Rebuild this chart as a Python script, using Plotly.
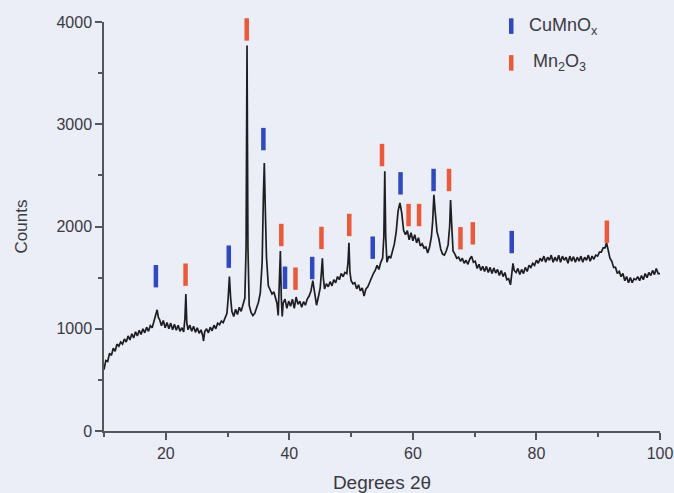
import plotly.graph_objects as go

two_theta = [10.0, 10.3, 10.6, 10.9, 11.2, 11.5, 11.8, 12.1, 12.4, 12.7, 13.0, 13.3, 13.6, 13.9, 14.2, 14.5,
             14.8, 15.1, 15.4, 15.7, 16.0, 16.3, 16.6, 16.9, 17.2, 17.5, 17.8, 18.1, 18.4, 18.6, 18.8, 19.0,
             19.3, 19.6, 19.9, 20.2, 20.5, 20.8, 21.1, 21.4, 21.7, 22.0, 22.3, 22.6, 22.9, 23.1, 23.25, 23.4,
             23.6, 23.9, 24.2, 24.5, 24.8, 25.1, 25.4, 25.7, 26.0, 26.1, 26.3, 26.6, 26.9, 27.2, 27.5, 27.8,
             28.1, 28.4, 28.7, 29.0, 29.3, 29.6, 29.9, 30.1, 30.3, 30.5, 30.7, 31.0, 31.3, 31.6, 31.9, 32.2,
             32.5, 32.8, 33.0, 33.15, 33.3, 33.5, 33.8, 34.1, 34.4, 34.7, 35.0, 35.3, 35.6, 35.8, 35.95, 36.1,
             36.3, 36.6, 36.9, 37.2, 37.5, 37.8, 38.0, 38.2, 38.4, 38.55, 38.7, 38.85, 39.0, 39.3, 39.6, 39.9,
             40.2, 40.5, 40.8, 41.1, 41.4, 41.7, 42.0, 42.3, 42.6, 42.9, 43.2, 43.5, 43.8, 44.1, 44.4, 44.7,
             45.0, 45.2, 45.35, 45.5, 45.7, 46.0, 46.3, 46.6, 46.9, 47.2, 47.5, 47.8, 48.1, 48.4, 48.7, 49.0,
             49.3, 49.5, 49.65, 49.8, 50.0, 50.3, 50.6, 50.9, 51.2, 51.5, 51.8, 52.1, 52.4, 52.7, 53.0, 53.3,
             53.6, 53.9, 54.2, 54.5, 54.8, 55.1, 55.3, 55.45, 55.6, 55.8, 56.1, 56.4, 56.7, 57.0, 57.3, 57.6,
             57.9, 58.2, 58.5, 58.8, 59.1, 59.4, 59.7, 60.0, 60.3, 60.6, 60.9, 61.2, 61.5, 61.8, 62.1, 62.4,
             62.7, 63.0, 63.2, 63.4, 63.6, 63.9, 64.2, 64.5, 64.8, 65.1, 65.4, 65.7, 65.95, 66.1, 66.3, 66.5,
             66.8, 67.1, 67.4, 67.7, 68.0, 68.3, 68.6, 68.9, 69.2, 69.5, 69.8, 70.1, 70.4, 70.7, 71.0, 71.3,
             71.6, 71.9, 72.2, 72.5, 72.8, 73.1, 73.4, 73.7, 74.0, 74.3, 74.6, 74.9, 75.2, 75.5, 75.8, 76.0,
             76.2, 76.4, 76.7, 77.0, 77.3, 77.6, 77.9, 78.2, 78.5, 78.8, 79.1, 79.4, 79.7, 80.0, 80.3, 80.6,
             80.9, 81.2, 81.5, 81.8, 82.1, 82.4, 82.7, 83.0, 83.3, 83.6, 83.9, 84.2, 84.5, 84.8, 85.1, 85.4,
             85.7, 86.0, 86.3, 86.6, 86.9, 87.2, 87.5, 87.8, 88.1, 88.4, 88.7, 89.0, 89.3, 89.6, 89.9, 90.2,
             90.5, 90.8, 91.1, 91.35, 91.6, 91.9, 92.2, 92.5, 92.8, 93.1, 93.4, 93.7, 94.0, 94.3, 94.6, 94.9,
             95.2, 95.5, 95.8, 96.1, 96.4, 96.7, 97.0, 97.3, 97.6, 97.9, 98.2, 98.5, 98.8, 99.1, 99.4, 99.7,
             100.0]

counts = [600, 690, 680, 760, 740, 810, 780, 850, 830, 870, 850, 900, 870, 930, 890, 950,
          910, 970, 930, 985, 945, 1000, 960, 1015, 975, 1030, 1010, 1070, 1140, 1185, 1110, 1090,
          1030, 1080, 1010, 1060, 1000, 1055, 990, 1045, 985, 1035, 975, 1010, 970, 1100, 1340, 1060,
          990, 1035, 975, 1025, 965, 1010, 955, 990, 930, 880, 970, 1000, 960, 1015, 980, 1035,
          1000, 1055, 1040, 1075, 1060, 1110, 1150, 1300, 1510, 1300, 1170, 1120, 1190, 1140, 1210, 1170,
          1230, 1300, 1800, 3770, 1800, 1230, 1160, 1130, 1150, 1200, 1260, 1350, 1650, 2300, 2620, 2200,
          1700, 1420, 1370, 1340, 1360, 1300, 1250, 1130, 1400, 1760, 1300, 1120, 1250, 1290, 1200, 1270,
          1220, 1290, 1200, 1310, 1240, 1270, 1210, 1265, 1230, 1290, 1320, 1370, 1470, 1320, 1230, 1310,
          1400, 1560, 1690, 1500, 1390, 1440, 1410, 1460, 1420, 1480, 1450, 1510, 1480, 1540, 1510, 1550,
          1540, 1650, 1840, 1560, 1470, 1440, 1450, 1390, 1430, 1370, 1400, 1320, 1390, 1410, 1460, 1490,
          1540, 1570, 1620, 1580, 1650, 1690, 1900, 2540, 1900, 1650, 1710, 1690, 1760, 1830, 1950, 2150,
          2230, 2130, 1960, 1920, 1960, 1870, 1940, 1860, 1920, 1840, 1890, 1810, 1830, 1790, 1800, 1740,
          1800, 1900, 2050, 2310, 2150, 1950, 1880, 1780, 1730, 1720, 1760, 1820, 2000, 2260, 2000, 1760,
          1730, 1690, 1700, 1660, 1690, 1640, 1670, 1630, 1680, 1710, 1650, 1660, 1590, 1630, 1570, 1610,
          1560, 1610, 1550, 1600, 1540, 1595, 1545, 1580, 1520, 1570, 1510, 1550, 1480, 1490, 1430, 1560,
          1640, 1570, 1550, 1590, 1530, 1580, 1540, 1600, 1560, 1620, 1600, 1640, 1620, 1670, 1640, 1690,
          1660, 1710, 1650, 1700, 1670, 1720, 1650, 1700, 1660, 1720, 1650, 1710, 1670, 1700, 1640, 1710,
          1660, 1705, 1650, 1700, 1660, 1710, 1650, 1700, 1670, 1720, 1660, 1710, 1680, 1720, 1710, 1750,
          1750, 1790, 1790, 1840, 1760, 1690, 1660, 1600, 1600, 1540, 1560, 1510, 1540, 1470, 1510, 1450,
          1500, 1450, 1490, 1480, 1510, 1470, 1520, 1480, 1540, 1500, 1550, 1520, 1570, 1530, 1590, 1540,
          1540]

cumnox_theta = [18.4, 30.2, 35.8, 39.3, 43.7, 53.5, 58.0, 63.35, 76.0]
cumnox_level = [1514, 1705, 2855, 1499, 1594, 1793, 2422, 2455, 1848]

mn2o3_theta = [23.2, 33.1, 38.7, 41.0, 45.2, 49.7, 55.0, 59.3, 61.0, 65.85, 67.7, 69.7, 91.4]
mn2o3_level = [1529, 3927, 1917, 1490, 1888, 2015, 2699, 2112, 2112, 2455, 1885, 1933, 1949]

x_ticks = [20, 40, 60, 80, 100]
y_ticks = [0, 1000, 2000, 3000, 4000]
legend_labels = ["CuMnO<sub>x</sub>", "Mn<sub>2</sub>O<sub>3</sub>"]

BLUE = "#3049c0"
RED = "#ea5a3a"
BG = "#ebedf7"
TXT = "#3a3a42"
AX = "#55555c"
FONT = "Liberation Sans, Arial"

fig = go.Figure()
fig.add_trace(go.Scatter(x=two_theta, y=counts, mode="lines",
                         line=dict(color="#1e1e22", width=1.7), showlegend=False))
fig.add_trace(go.Scatter(x=cumnox_theta, y=cumnox_level, mode="markers", name=legend_labels[0],
                         showlegend=False, cliponaxis=False,
                         marker=dict(symbol="line-ns", size=16, line=dict(color=BLUE, width=4.5))))
fig.add_trace(go.Scatter(x=mn2o3_theta, y=mn2o3_level, mode="markers", name=legend_labels[1],
                         showlegend=False, cliponaxis=False,
                         marker=dict(symbol="line-ns", size=16, line=dict(color=RED, width=4.5))))

axis_common = dict(showline=True, linecolor=AX, linewidth=1.5, ticks="outside",
                   tickcolor=AX, tickwidth=1.5, ticklen=7, showgrid=False, zeroline=False,
                   automargin=False,
                   tickfont=dict(family=FONT, size=16, color=TXT))

fig.update_xaxes(range=[10, 100], tickvals=x_ticks,
                 minor=dict(tickvals=[10, 30, 50, 70, 90], ticks="outside", ticklen=4,
                            tickcolor=AX, tickwidth=1.5),
                 title=dict(text="Degrees 2θ", font=dict(family=FONT, size=19, color=TXT),
                            standoff=22),
                 **axis_common)
fig.update_yaxes(range=[0, 4000], tickvals=y_ticks,
                 minor=dict(tickvals=[500, 1500, 2500, 3500], ticks="outside", ticklen=4,
                            tickcolor=AX, tickwidth=1.5),
                 title=dict(text="Counts", font=dict(family=FONT, size=17, color=TXT),
                            standoff=25),
                 **axis_common)

# manual legend (symbols + labels) placed at the reference's top-right position
legend_colors = [BLUE, RED]
legend_rows_y = [0.990, 0.900]
legend_text_x = [0.761, 0.768]
for lab, col, yc, tx in zip(legend_labels, legend_colors, legend_rows_y, legend_text_x):
    fig.add_shape(type="rect", xref="paper", yref="paper",
                  x0=0.7284, x1=0.7365, y0=yc - 0.019, y1=yc + 0.019,
                  fillcolor=col, line=dict(width=0), layer="above")
    fig.add_annotation(xref="paper", yref="paper", x=tx, y=yc, text=lab, showarrow=False,
                       xanchor="left", yanchor="middle",
                       font=dict(family=FONT, size=18, color=TXT))

fig.update_layout(
    width=674, height=493,
    margin=dict(l=104, r=14, t=22, b=62),
    paper_bgcolor=BG, plot_bgcolor=BG,
    showlegend=False,
)

fig.write_html("out.html")
